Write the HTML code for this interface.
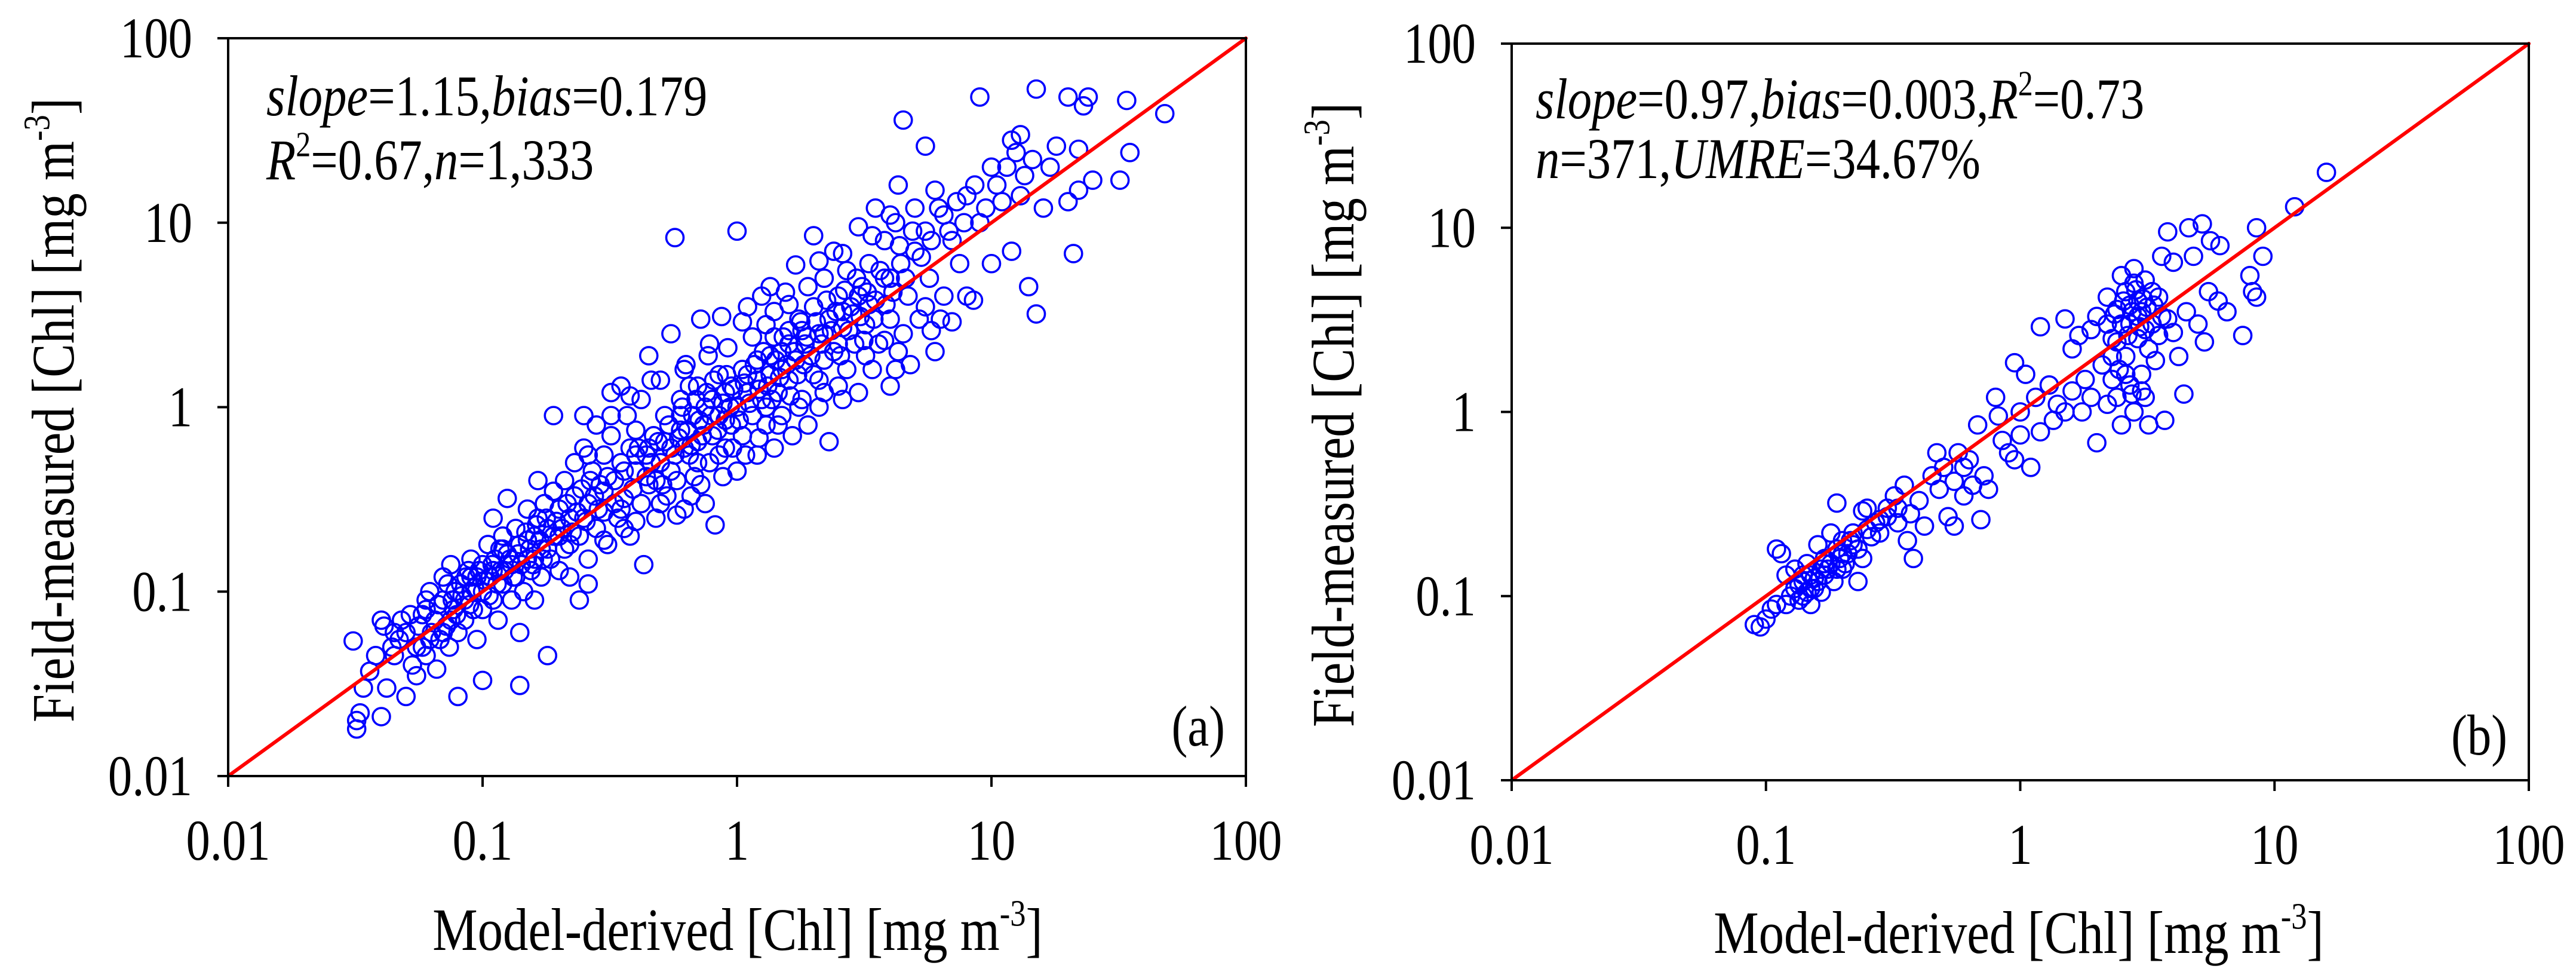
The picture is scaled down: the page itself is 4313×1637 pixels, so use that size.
<!DOCTYPE html>
<html><head><meta charset="utf-8"><style>
html,body{margin:0;padding:0;background:#fff;}
svg{display:block;font-family:"Liberation Serif","Times New Roman",serif;}
text,tspan{font-family:"Liberation Serif","Times New Roman",serif;fill:#000;}
</style></head><body>
<svg id="chart" xmlns="http://www.w3.org/2000/svg" width="4313" height="1637" viewBox="0 0 4313 1637" font-family="Liberation Serif, serif"></svg>
<script>
const tickValues = [0.01, 0.1, 1, 10, 100];
const tickLabels = ["0.01", "0.1", "1", "10", "100"];
const panelLabels = ["(a)", "(b)"];
const xTitle = "Model-derived [Chl] [mg m";
const yTitle = "Field-measured [Chl] [mg m";
const pointsA = [[0.032,0.018],[0.032,0.02],[0.033,0.022],[0.031,0.054],[0.034,0.03],[0.036,0.037],[0.038,0.045],[0.04,0.07],[0.041,0.065],[0.04,0.021],[0.042,0.03],[0.044,0.05],[0.045,0.06],[0.047,0.055],[0.05,0.06],[0.05,0.027],[0.052,0.075],[0.053,0.04],[0.055,0.035],[0.056,0.065],[0.058,0.05],[0.06,0.08],[0.06,0.045],[0.062,0.1],[0.063,0.06],[0.065,0.07],[0.066,0.038],[0.068,0.055],[0.07,0.09],[0.07,0.12],[0.072,0.065],[0.074,0.05],[0.075,0.14],[0.077,0.08],[0.078,0.1],[0.08,0.027],[0.08,0.06],[0.082,0.11],[0.085,0.09],[0.085,0.07],[0.088,0.13],[0.09,0.15],[0.09,0.1],[0.092,0.08],[0.095,0.055],[0.095,0.12],[0.1,0.1],[0.1,0.14],[0.1,0.08],[0.1,0.033],[0.105,0.18],[0.107,0.12],[0.11,0.09],[0.11,0.25],[0.112,0.15],[0.115,0.07],[0.118,0.13],[0.12,0.2],[0.12,0.11],[0.125,0.32],[0.125,0.16],[0.13,0.09],[0.13,0.14],[0.135,0.22],[0.135,0.12],[0.14,0.031],[0.14,0.06],[0.14,0.18],[0.145,0.1],[0.15,0.28],[0.15,0.15],[0.155,0.13],[0.16,0.2],[0.16,0.09],[0.165,0.25],[0.17,0.17],[0.17,0.12],[0.175,0.3],[0.18,0.045],[0.18,0.22],[0.185,0.15],[0.19,0.9],[0.19,0.35],[0.2,0.2],[0.2,0.13],[0.2,0.28],[0.21,0.4],[0.21,0.17],[0.22,0.25],[0.22,0.12],[0.23,0.5],[0.23,0.33],[0.24,0.2],[0.24,0.09],[0.25,0.9],[0.25,0.6],[0.26,0.3],[0.26,0.15],[0.27,0.45],[0.28,0.22],[0.28,0.8],[0.29,0.38],[0.3,0.27],[0.3,0.55],[0.31,0.18],[0.32,1.2],[0.32,0.7],[0.33,0.4],[0.34,0.25],[0.35,1.3],[0.35,0.5],[0.36,0.32],[0.37,0.9],[0.38,0.6],[0.38,0.2],[0.4,0.45],[0.4,0.75],[0.42,0.3],[0.42,1.1],[0.43,0.14],[0.44,0.55],[0.45,1.9],[0.45,0.38],[0.47,0.7],[0.48,0.25],[0.5,1.4],[0.5,0.5],[0.52,0.9],[0.53,0.33],[0.55,0.6],[0.55,2.5],[0.57,8.3],[0.58,0.4],[0.6,1.1],[0.6,0.75],[0.62,0.28],[0.63,1.7],[0.65,0.55],[0.67,0.9],[0.68,0.42],[0.7,1.3],[0.7,0.65],[0.72,3.0],[0.74,0.8],[0.75,0.3],[0.77,1.9],[0.78,0.5],[0.8,1.1],[0.8,0.7],[0.82,0.23],[0.85,1.5],[0.85,0.9],[0.87,3.1],[0.9,0.6],[0.9,1.2],[0.92,2.1],[0.95,0.8],[1.0,9],[1.0,1.0],[1.0,0.45],[1.05,1.6],[1.05,0.7],[1.1,3.5],[1.1,1.2],[1.15,0.9],[1.15,2.4],[1.2,0.55],[1.2,1.8],[1.25,4.0],[1.25,1.1],[1.3,0.8],[1.3,2.8],[1.35,1.5],[1.4,0.6],[1.4,3.3],[1.45,1.2],[1.5,2.0],[1.5,0.9],[1.55,4.2],[1.6,1.4],[1.6,2.6],[1.65,0.7],[1.7,1.8],[1.7,5.9],[1.75,3.0],[1.8,1.1],[1.85,2.2],[1.9,4.5],[1.9,0.8],[2.0,1.5],[2.0,3.5],[2.0,8.5],[2.1,2.5],[2.1,1.0],[2.2,5.0],[2.2,1.8],[2.3,3.0],[2.3,0.65],[2.4,2.0],[2.4,7.0],[2.5,4.0],[2.5,1.3],[2.6,2.7],[2.7,5.5],[2.7,1.6],[2.8,3.5],[2.9,2.2],[3.0,9.5],[3.0,1.2],[3.1,4.5],[3.2,2.8],[3.3,6.0],[3.4,1.6],[3.5,3.8],[3.5,12],[3.6,2.2],[3.8,8],[3.8,5],[4.0,1.3],[4.0,3.0],[4.2,10],[4.3,16],[4.4,6],[4.5,36],[4.5,2.5],[4.7,4],[4.8,1.7],[5,12],[5,7],[5.2,3],[5.5,26],[5.5,9],[5.7,5],[6,15],[6,2],[6.3,3],[6.5,11],[7,8],[7,2.9],[7.5,6],[8,14],[8,4],[8.5,3.8],[9,10],[9,48],[10,20],[10,6],[11,13],[12,7],[12,28],[13,30],[13,14],[14,4.5],[15,3.2],[15,53],[16,12],[17,20],[18,26],[20,48],[20,13],[21,6.8],[22,15],[22,25],[23,43],[24,48],[25,17],[32,17],[34,46],[35,24],[48,39],
[0.06,0.09],[0.09,0.12],[0.12,0.17],[0.15,0.19],[0.18,0.17],[0.25,0.25],[0.3,0.35],[0.4,0.55],[0.45,0.6],[0.55,0.45],[0.6,0.9],[0.65,1.3],[0.75,1.0],[0.9,0.85],[1.1,1.5],[1.2,1.4],[1.35,1.9],[1.5,1.6],[1.6,2.2],[1.8,2.6],[2.2,2.5],[2.5,2.2],[2.6,3.3],[3,4],[3.3,3.6],[4,5],[0.48,0.4],[0.52,0.65],[0.35,0.28],[0.22,0.18],[0.16,0.15],[0.11,0.13],[0.075,0.07],[0.95,1.3],[1.3,1.0],[2.1,1.4],[1.4,2.4],[0.7,0.5],[0.85,0.55],[0.62,0.6],
[0.045,0.045],[0.048,0.07],[0.055,0.05],[0.058,0.075],[0.062,0.055],[0.067,0.085],[0.07,0.06],[0.073,0.11],[0.076,0.09],[0.079,0.075],[0.083,0.095],[0.086,0.12],[0.089,0.085],[0.093,0.105],[0.097,0.13],[0.102,0.115],[0.106,0.095],[0.109,0.14],[0.114,0.11],[0.117,0.17],[0.122,0.13],[0.128,0.15],[0.132,0.12],[0.138,0.16],[0.142,0.14],[0.148,0.21],[0.153,0.17],[0.158,0.14],[0.163,0.23],[0.168,0.19],[0.173,0.15],[0.178,0.25],[0.19,0.2],[0.195,0.24],[0.205,0.22],[0.215,0.3],[0.225,0.21],[0.235,0.27],[0.245,0.36],[0.255,0.24],[0.265,0.4],[0.275,0.33],[0.285,0.28],[0.31,0.42],[0.33,0.3],[0.36,0.45],[0.39,0.36],[0.41,0.6],[0.44,0.42],[0.46,0.5],[0.49,0.65],[0.51,0.38],[0.54,0.8],[0.57,0.55],[0.59,0.68],[0.61,1.0],[0.64,0.75],[0.66,0.62],[0.69,1.1],[0.71,0.85],[0.73,0.7],[0.76,1.2],[0.79,0.9],[0.81,1.4],[0.84,0.75],[0.88,1.05],[0.91,1.5],[0.94,1.0],[0.97,1.25],[1.02,0.85],[1.07,1.35],[1.12,1.05],[1.17,1.7],[1.22,1.25],[1.27,2.0],[1.32,1.3],[1.37,1.1],[1.42,1.8],[1.47,1.45],[1.52,2.4],[1.57,1.7],[1.62,1.15],[1.68,2.0],[1.73,1.5],[1.78,2.9],[1.83,1.7],[1.88,2.4],[1.95,1.9],[2.05,2.9],[2.15,2.2],[2.25,3.8],[2.35,2.6],[2.45,3.3],[2.55,1.9],[2.65,4.3],[2.75,2.6],[2.85,3.2],[2.95,5.0],[3.05,3.1],[3.15,2.3],[3.25,4.2],[3.45,3.0],[3.65,5.5],[3.85,3.6],[4.1,4.2],[4.35,7.5],[4.6,5.0],[4.9,9],[5.3,6.5],[5.8,8],[6.2,12],[6.8,9],[7.3,13],[7.8,10],[8.6,16],[9.5,12],[10.5,16],[11.5,20],[12.5,24],[13.5,18],[14.5,22],[0.26,0.11],[0.3,0.19],[0.36,0.22],[0.4,0.24],[0.5,0.3],[0.58,0.26],[0.66,0.33],[0.72,0.38],[0.88,0.42],[0.96,0.6],[1.08,0.55],[1.22,0.68],[1.45,0.8],[1.75,1.0],[2.2,1.2],[2.6,1.1],[3.2,1.9],[3.8,2.3],[4.3,2.0],[5.5,3.5],[6.5,4],[4.2,1.6],[5.8,2.6],[0.165,0.4],[0.26,0.55],[0.32,0.9],[0.38,1.15],[0.46,1.4],[0.62,1.6],[0.78,2.2],[1.05,2.9],[1.35,4.5],[1.6,3.6],[2.1,6.2],[2.6,6.8],[3.4,8.5],[4.0,11]];
const pointsB = [[0.09,0.07],[0.095,0.068],[0.1,0.075],[0.105,0.085],[0.11,0.09],[0.11,0.18],[0.115,0.17],[0.12,0.09],[0.12,0.13],[0.125,0.1],[0.13,0.11],[0.13,0.14],[0.135,0.095],[0.14,0.12],[0.14,0.1],[0.145,0.15],[0.15,0.09],[0.15,0.13],[0.155,0.11],[0.16,0.12],[0.16,0.19],[0.165,0.14],[0.17,0.13],[0.17,0.16],[0.18,0.15],[0.18,0.22],[0.19,0.32],[0.19,0.18],[0.2,0.14],[0.2,0.2],[0.21,0.17],[0.22,0.22],[0.23,0.12],[0.23,0.18],[0.24,0.29],[0.25,0.3],[0.26,0.21],[0.27,0.25],[0.28,0.22],[0.3,0.27],[0.3,0.3],[0.32,0.35],[0.33,0.25],[0.35,0.4],[0.36,0.2],[0.37,0.28],[0.38,0.16],[0.4,0.33],[0.42,0.24],[0.45,0.45],[0.47,0.6],[0.48,0.38],[0.5,0.5],[0.52,0.27],[0.55,0.42],[0.55,0.24],[0.57,0.6],[0.6,0.5],[0.6,0.35],[0.63,0.55],[0.65,0.4],[0.68,0.85],[0.7,0.26],[0.72,0.45],[0.75,0.38],[0.8,1.2],[0.82,0.95],[0.85,0.7],[0.9,0.6],[0.95,1.85],[0.95,0.55],[1.0,0.75],[1.0,1.0],[1.05,1.6],[1.1,0.5],[1.15,1.2],[1.2,2.9],[1.2,0.78],[1.3,1.4],[1.35,0.9],[1.4,1.1],[1.5,1.0],[1.5,3.2],[1.6,1.3],[1.6,2.2],[1.7,2.6],[1.75,1.0],[1.8,1.5],[1.9,2.8],[1.9,1.2],[2.0,0.68],[2.0,3.3],[2.1,1.8],[2.2,1.1],[2.2,4.2],[2.3,2.5],[2.3,1.5],[2.4,3.6],[2.4,1.2],[2.5,5.5],[2.5,0.85],[2.6,2.0],[2.6,4.5],[2.7,1.4],[2.7,3.0],[2.8,6.0],[2.8,1.0],[2.9,2.5],[2.9,4.0],[3.0,1.6],[3.0,3.5],[3.1,5.2],[3.1,1.2],[3.2,2.2],[3.2,0.85],[3.3,3.0],[3.4,1.9],[3.5,4.2],[3.5,2.6],[3.6,7.0],[3.7,0.9],[3.8,9.5],[3.8,3.2],[4.0,6.5],[4.0,2.7],[4.2,2.0],[4.4,1.25],[4.5,3.5],[4.6,10],[4.8,7],[5.0,3.0],[5.2,10.5],[5.3,2.4],[5.5,4.5],[5.6,8.5],[6.0,4.0],[6.1,8.0],[6.5,3.5],[7.5,2.6],[8,5.5],[8.2,4.5],[8.5,4.2],[8.5,10],[9,7],[12,13],[16,20],
[0.14,0.13],[0.15,0.11],[0.17,0.15],[0.19,0.14],[0.2,0.17],[0.22,0.19],[0.25,0.23],[0.28,0.26],[0.33,0.3],[2.5,3.0],[2.7,3.8],[2.9,3.3],[3.1,2.8],[2.4,2.4],[2.6,1.6],[3.3,4.5],[2.2,3.0],[2.8,5.0],
[0.135,0.115],[0.145,0.105],[0.155,0.125],[0.165,0.105],[0.175,0.14],[0.185,0.12],[0.195,0.16],[0.205,0.15],[0.215,0.2],[0.24,0.16],[2.35,3.4],[2.55,4.0],[2.65,2.6],[2.75,3.5],[2.85,4.6],[2.95,2.9],[3.05,4.1],[3.15,3.7],[3.35,3.8],[3.6,3.3],[2.45,1.7],[2.75,1.25],[3.0,1.3],[2.3,2.0]];

const NS = "http://www.w3.org/2000/svg";
const FF = '"Liberation Serif", "Times New Roman", serif';
const svg = document.getElementById('chart');
function mk(tag, attrs, parent) {
  const e = document.createElementNS(NS, tag);
  for (const k in attrs) e.setAttribute(k, attrs[k]);
  (parent || svg).appendChild(e);
  return e;
}
function condense(t, f) {
  const w = t.getComputedTextLength();
  if (w > 0) { t.setAttribute('textLength', (w * f).toFixed(1)); t.setAttribute('lengthAdjust', 'spacingAndGlyphs'); }
}
function sup(t, parts, fs) {
  let raised = false;
  parts.forEach(pt => {
    const s = mk('tspan', {'font-family': FF}, t);
    s.textContent = pt[0];
    if (pt[1] === 1) s.setAttribute('font-style', 'italic');
    if (pt[1] === 2) { s.setAttribute('dy', -0.4 * fs); s.setAttribute('font-size', 0.62 * fs); raised = true; }
    else if (raised) { s.setAttribute('dy', 0.4 * fs); raised = false; }
  });
}
const panels = [
  {L:382, R:2086, T:64, B:1299, pts:pointsA, label:panelLabels[0], labX:2051, labY:1248,
   ann:[{x:446,y:193,parts:[["slope",1],["=1.15,",0],["bias",1],["=0.179",0]]},
        {x:446,y:300,parts:[["R",1],["2",2],["=0.67,",0],["n",1],["=1,333",0]]}],
   ytx:90, xtx:1235, xty:1590},
  {L:2531, R:4234, T:73, B:1306, pts:pointsB, label:panelLabels[1], labX:4198, labY:1263,
   ann:[{x:2571,y:198,parts:[["slope",1],["=0.97,",0],["bias",1],["=0.003,",0],["R",1],["2",2],["=0.73",0]]},
        {x:2571,y:298,parts:[["n",1],["=371,",0],["UMRE",1],["=34.67%",0]]}],
   ytx:2233, xtx:3380, xty:1595}
];
const C = 0.84;
panels.forEach((p, pi) => {
  const g = mk('g', {});
  
  
  const xs = v => p.L + (Math.log10(v) + 2) / 4 * (p.R - p.L);
  const ys = v => p.B - (Math.log10(v) + 2) / 4 * (p.B - p.T);
  const pg = mk('g', {fill:'none', stroke:'#0000ff', 'stroke-width':3.6}, g);
  
  
  p.pts.forEach(d => {
    const c = mk('circle', {cx:xs(d[0]), cy:ys(d[1]), r:14.5}, pg);
    
    
  });
  const ln = mk('line', {x1:xs(0.01), y1:ys(0.01), x2:xs(100), y2:ys(100), stroke:'#ff0000', 'stroke-width':6, 'stroke-linecap':'round'}, g);
  
  
  const fr = mk('rect', {x:p.L, y:p.T, width:p.R - p.L, height:p.B - p.T, fill:'none', stroke:'#000', 'stroke-width':4}, g);
  
  
  tickValues.forEach((v, i) => {
    const tx = mk('line', {x1:xs(v), x2:xs(v), y1:p.B, y2:p.B + 18, stroke:'#000', 'stroke-width':4}, g);
    
    
    const ty = mk('line', {x1:p.L - 18, x2:p.L, y1:ys(v), y2:ys(v), stroke:'#000', 'stroke-width':4}, g);
    
    
    const lx = mk('text', {x:xs(v), y:p.B + 140, 'font-size':96, 'text-anchor':'middle', 'font-family':FF}, g);
    lx.textContent = tickLabels[i];
    
    
    condense(lx, C);
    const ly = mk('text', {x:p.L - 60, y:ys(v) + 32, 'font-size':96, 'text-anchor':'end', 'font-family':FF}, g);
    ly.textContent = tickLabels[i];
    
    
    condense(ly, C);
  });
  const xt = mk('text', {x:p.xtx, y:p.xty, 'font-size':101, 'text-anchor':'middle', 'font-family':FF}, g);
  
  
  sup(xt, [[xTitle,0],["-3",2],["]",0]], 101);
  condense(xt, C);
  const cy = (p.T + p.B) / 2 + 5;
  const yt = mk('text', {x:0, y:0, 'font-size':101, 'text-anchor':'middle', 'font-family':FF, transform:'translate(' + (p.ytx + 33) + ',' + cy + ') rotate(-90)'}, g);
  
  
  sup(yt, [[yTitle,0],["-3",2],["]",0]], 101);
  condense(yt, C);
  p.ann.forEach(a => {
    const t = mk('text', {x:a.x, y:a.y, 'font-size':96, 'font-family':FF}, g);
    
    
    sup(t, a.parts, 96);
    condense(t, C);
  });
  const pl = mk('text', {x:p.labX, y:p.labY, 'font-size':96, 'text-anchor':'end', 'font-family':FF}, g);
  pl.textContent = p.label;
  
  
  condense(pl, C);
});
</script>
</body></html>
